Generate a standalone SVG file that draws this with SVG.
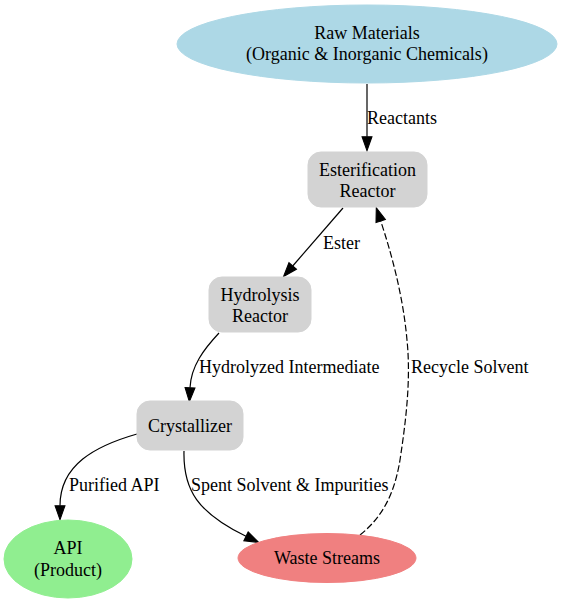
<svg xmlns="http://www.w3.org/2000/svg" width="562" height="603" viewBox="0 0 562 603">
<style>
text{font-family:"Liberation Serif","Times New Roman",serif;font-size:18px;fill:#000}
.c{text-anchor:middle}
.e{fill:none;stroke:#000;stroke-width:1.2}
.box{fill:#d3d3d3;stroke:#d3d3d3}
</style>
<defs>
<marker id="arr" markerUnits="userSpaceOnUse" markerWidth="14" markerHeight="10" viewBox="0 -4.7 13.3 9.4" refX="0" refY="0" orient="auto" overflow="visible">
<path d="M0,-4.7 L13.3,0 L0,4.7 Z" fill="#000" stroke="#000" stroke-width="1"/>
</marker>
</defs>
<rect width="562" height="603" fill="#fff"/>
<g id="connectors">
<path class="e" d="M367,84 L367,136.7" marker-end="url(#arr)"/>
<text x="367" y="124">Reactants</text>
<path class="e" d="M343,208 L292.7,266" marker-end="url(#arr)"/>
<text x="323" y="249">Ester</text>
<path class="e" d="M219,333 C204,349 191,366 190,387.7" marker-end="url(#arr)"/>
<text x="199" y="373">Hydrolyzed Intermediate</text>
<path class="e" d="M137,434 C95,446 60,465 60,505.7" marker-end="url(#arr)"/>
<text x="69" y="491">Purified API</text>
<path class="e" d="M184,451 C183,490 198,513 246,536.3" marker-end="url(#arr)"/>
<text x="191" y="491">Spent Solvent &amp; Impurities</text>
<path class="e" stroke-dasharray="6.7,2.7" d="M360,535 C385,515 395,490 400,460 C406,420 411,380 407,340 C403,295 391,252 380.7,221" marker-end="url(#arr)"/>
<text x="411" y="373">Recycle Solvent</text>
</g>
<g id="raw">
<ellipse cx="367" cy="44" rx="190" ry="39" fill="#add8e6" stroke="#add8e6"/>
<text class="c" x="367" y="39">Raw Materials</text>
<text class="c" x="367" y="60">(Organic &amp; Inorganic Chemicals)</text>
</g>
<g id="esterification">
<rect class="box" x="308" y="152" width="119" height="55" rx="13"/>
<text class="c" x="367.5" y="176">Esterification</text>
<text class="c" x="367.5" y="197">Reactor</text>
</g>
<g id="hydrolysis">
<rect class="box" x="209" y="277" width="102" height="55" rx="13"/>
<text class="c" x="260" y="301">Hydrolysis</text>
<text class="c" x="260" y="322">Reactor</text>
</g>
<g id="crystallizer">
<rect class="box" x="137" y="401" width="106" height="49" rx="13"/>
<text class="c" x="190" y="432">Crystallizer</text>
</g>
<g id="api">
<ellipse cx="68" cy="559" rx="64" ry="39" fill="#90ee90" stroke="#90ee90"/>
<text class="c" x="68" y="554">API</text>
<text class="c" x="68" y="576">(Product)</text>
</g>
<g id="waste">
<ellipse cx="327" cy="558" rx="89" ry="24.5" fill="#f08080" stroke="#f08080"/>
<text class="c" x="327" y="564">Waste Streams</text>
</g>
</svg>
